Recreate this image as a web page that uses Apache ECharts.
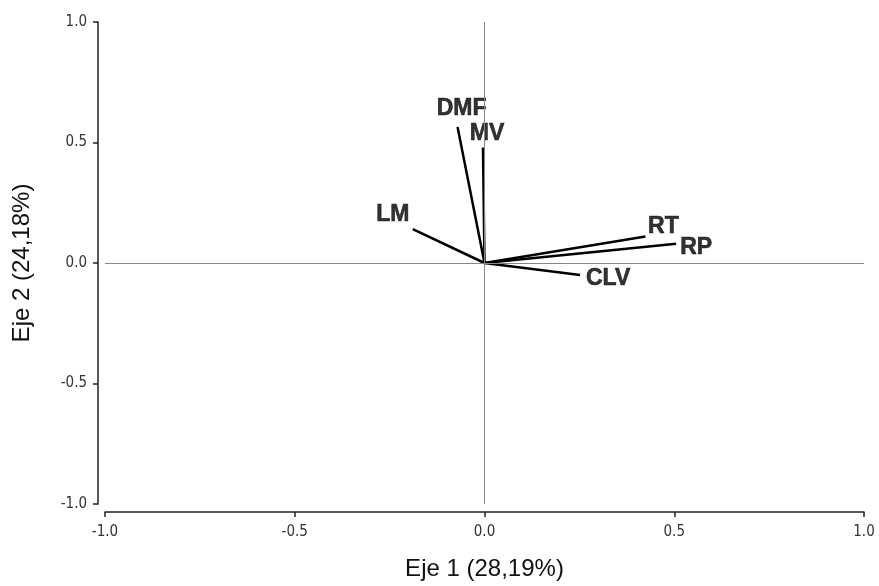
<!DOCTYPE html>
<html>
<head>
<meta charset="utf-8">
<script src="https://cdn.jsdelivr.net/npm/echarts@6/dist/echarts.min.js"></script>
<style>html,body{margin:0;padding:0;background:#fff;}#c{width:879px;height:586px;}</style>
</head>
<body>
<div id="c"></div>
<script>
// Data: variable names and their loadings on axis 1 and axis 2
const variables = ['DMF', 'MV', 'LM', 'RT', 'RP', 'CLV'];
const eje1 = [-0.071, -0.004, -0.189, 0.424, 0.505, 0.252];
const eje2 = [0.564, 0.479, 0.141, 0.110, 0.080, -0.050];
const tickValues = [-1.0, -0.5, 0.0, 0.5, 1.0];
const xTitle = 'Eje 1 (28,19%)';
const yTitle = 'Eje 2 (24,18%)';

// label placement (style only)
const labelOffsets = {
  DMF: [4, -18], MV: [4, -14], LM: [-20, -14],
  RT: [18, -10], RP: [20, 4], CLV: [28, 4]
};

const chart = echarts.init(document.getElementById('c'), null, {renderer: 'canvas'});

const vecSeries = variables.map((name, i) => ({
  type: 'line',
  name: name,
  data: [[0, 0], [eje1[i], eje2[i]]],
  symbol: 'none',
  lineStyle: {color: '#000', width: 2.5},
  silent: true,
  z: 3
}));

const labelSeries = {
  type: 'scatter',
  symbolSize: 0,
  silent: true,
  z: 4,
  itemStyle: {color: '#000'},
  data: variables.map((name, i) => ({
    value: [eje1[i], eje2[i]],
    name: name,
    label: {
      show: true,
      position: 'inside',
      offset: labelOffsets[name],
      formatter: name,
      color: '#000',
      textBorderColor: '#000',
      textBorderWidth: 0.6,
      fontFamily: 'Arial, "Liberation Sans", sans-serif',
      fontWeight: 'bold',
      fontSize: 23
    }
  }))
};

const zeroLines = {
  type: 'line',
  data: [],
  silent: true,
  markLine: {
    silent: true,
    symbol: 'none',
    label: {show: false},
    lineStyle: {color: '#888', width: 1, type: 'solid'},
    data: [{xAxis: 0}, {yAxis: 0}]
  },
  z: 1
};

const axisLabelStyle = {
  color: '#333',
  fontFamily: '"Liberation Sans Narrow", "Arial Narrow", "DejaVu Sans Condensed", sans-serif',
  fontSize: 15,
  formatter: v => v.toFixed(1)
};

const titleStyle = {color: '#111', fontFamily: 'Arial, "Liberation Sans", sans-serif', fontSize: 24};

chart.setOption({
  animation: false,
  backgroundColor: '#fff',
  grid: {left: 105, right: 15, top: 22, bottom: 78},
  xAxis: {
    type: 'value',
    min: -1, max: 1, interval: 0.5,
    offset: 8,
    name: xTitle,
    nameLocation: 'middle',
    nameGap: 45,
    nameTextStyle: titleStyle,
    axisLine: {show: true, onZero: false, lineStyle: {color: '#222', width: 1.5}},
    axisTick: {show: true, length: 5, inside: false, lineStyle: {color: '#222', width: 1.5}},
    axisLabel: Object.assign({margin: 13}, axisLabelStyle),
    splitLine: {show: false}
  },
  yAxis: {
    type: 'value',
    min: -1, max: 1, interval: 0.5,
    offset: 7,
    name: yTitle,
    nameLocation: 'middle',
    nameGap: 64,
    nameTextStyle: titleStyle,
    axisLine: {show: true, onZero: false, lineStyle: {color: '#222', width: 1.5}},
    axisTick: {show: true, length: 5, inside: false, lineStyle: {color: '#222', width: 1.5}},
    axisLabel: Object.assign({margin: 11}, axisLabelStyle),
    splitLine: {show: false}
  },
  series: [zeroLines].concat(vecSeries).concat([labelSeries])
});
</script>
</body>
</html>
